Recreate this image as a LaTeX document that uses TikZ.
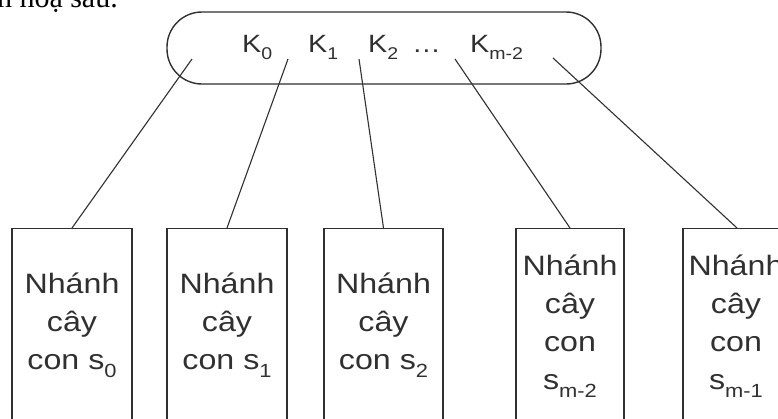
\documentclass[tikz,border=0pt]{standalone}
\usepackage{fontspec}
\setmainfont{Liberation Sans}[FakeStretch=1.15]
\newfontfamily\bodyserif{Liberation Serif}
\newcommand\lowsub[1]{\raisebox{-0.3em}{\scalebox{0.68}{#1}}}
\definecolor{ink}{HTML}{303030}
\tikzset{
  keylabel/.style={anchor=base west, inner sep=0pt, text=ink, font=\fontsize{25}{25}\selectfont},
  keyring/.style={draw=ink, line width=1.4pt, rounded corners=35pt, minimum width=434pt, minimum height=72pt, inner sep=0pt},
  subtree/.style={draw=ink, line width=1.4pt, anchor=north, minimum height=240pt, inner sep=0pt},
  subtext/.style={anchor=base, inner sep=0pt, text=ink},
  link/.style={draw=ink, line width=1.1pt},
}
\newcommand\branch[1]{\parbox[t]{130pt}{\centering\fontsize{28}{38}\selectfont #1}}
\begin{document}
\begin{tikzpicture}[x=1pt, y=-1pt]
  \useasboundingbox (0,0) rectangle (778,418);
  % tail of the sentence above the figure
  \node[anchor=base east, inner sep=0pt, font=\bodyserif\fontsize{30}{30}\selectfont] (caption) at (118,7) {minh hoạ sau.};

  % node holding the keys
  \node[keyring] (keys) at (384,48) {};
  \node[keylabel] (k0) at (242,52) {K\lowsub{0}};
  \node[keylabel] (k1) at (308,52) {K\lowsub{1}};
  \node[keylabel] (k2) at (368,52) {K\lowsub{2}};
  \node[keylabel] (kdots) at (412,52) {\dots};
  \node[keylabel] (km) at (470,52) {K\lowsub{m-2}};

  % free ends of the pointers inside the key node
  \coordinate (p0) at (192,59);
  \coordinate (p1) at (288,59);
  \coordinate (p2) at (359,59);
  \coordinate (p3) at (455,59);
  \coordinate (p4) at (553,58);

  % subtrees
  \node[subtree, minimum width=120pt] (s0) at (72,228) {};
  \node[subtree, minimum width=120pt] (s1) at (227,228) {};
  \node[subtree, minimum width=119pt] (s2) at (383.5,228) {};
  \node[subtree, minimum width=108pt] (s3) at (570,228) {};
  \node[subtree, minimum width=108pt] (s4) at (737,228) {};

  \node[subtext] (t0) at (72,293) {\branch{Nhánh\\cây\\con s\lowsub{0}}};
  \node[subtext] (t1) at (227,293) {\branch{Nhánh\\cây\\con s\lowsub{1}}};
  \node[subtext] (t2) at (383.5,293) {\branch{Nhánh\\cây\\con s\lowsub{2}}};
  \node[subtext] (t3) at (570,275) {\branch{Nhánh\\cây\\con\\s\lowsub{m-2}}};
  \node[subtext] (t4) at (736,275) {\branch{Nhánh\\cây\\con\\s\lowsub{m-1}}};

  % pointers
  \draw[link] (s0.north) -- (p0);
  \draw[link] (s1.north) -- (p1);
  \draw[link] (s2.north) -- (p2);
  \draw[link] (s3.north) -- (p3);
  \draw[link] (s4.north) -- (p4);
\end{tikzpicture}
\end{document}
